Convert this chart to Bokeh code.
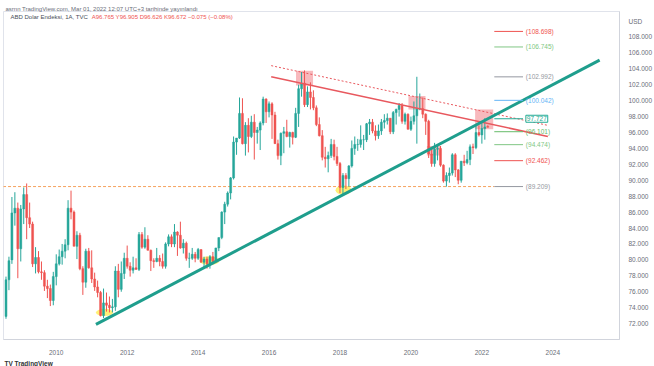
from bokeh.plotting import figure
from bokeh.models import (Range1d, FixedTicker, Label, Title, ColumnDataSource,
                          NumeralTickFormatter)
from bokeh.embed import file_html
from bokeh.resources import INLINE

# ---- Monthly DXY candles (Aug 2008 .. Mar 2022) ----
start_year, start_month = 2008, 8
opens = [72.9, 77.5, 80.0, 85.9, 86.5,
         81.4, 86.4, 88.2, 85.3, 84.5, 79.5, 80.3, 78.5, 78.4, 76.7, 76.4, 74.9,
         77.9, 79.5, 80.4, 81.1, 81.9, 86.5, 86.0, 81.7, 83.1, 78.9, 77.2, 81.1,
         79.0, 77.6, 76.6, 75.9, 73.0, 74.6, 74.3, 74.0, 74.1, 78.6, 76.3, 78.3,
         80.2, 79.2, 78.7, 79.0, 78.8, 83.2, 81.6, 82.6, 81.2, 79.9, 79.8, 80.2,
         79.8, 79.2, 82.0, 82.9, 82.0, 83.5, 83.1, 81.5, 82.1, 80.2, 80.2, 80.7,
         80.2, 81.3, 79.7, 80.1, 79.5, 80.4, 79.8, 81.5, 82.8, 86.0, 87.0, 88.4,
         90.3, 94.8, 95.3, 98.4, 94.6, 96.9, 95.5, 97.3, 96.0, 96.3, 97.2, 100.2,
         98.6, 99.6, 98.2, 94.6, 93.1, 95.9, 96.1, 95.5, 96.0, 95.4, 98.4, 101.5,
         102.2, 99.5, 101.1, 100.4, 99.1, 97.0, 95.6, 92.9, 92.7, 93.1, 94.5, 93.0,
         92.1, 89.1, 90.6, 90.2, 91.8, 94.0, 94.5, 94.5, 95.1, 95.1, 97.1, 97.3,
         96.2, 95.6, 96.2, 97.3, 97.5, 97.8, 96.1, 98.5, 98.9, 99.4, 97.4, 98.3,
         96.4, 97.4, 98.1, 99.0, 99.0, 98.3, 97.4, 93.3, 92.1, 93.9, 94.0, 91.9,
         89.9, 90.6, 90.9, 93.2, 91.3, 90.0, 92.4, 92.2, 92.6, 94.2, 94.1, 96.0,
         95.7, 96.5, 96.765]
highs = [77.9, 80.4, 87.9, 88.5, 87.2,
         86.9, 89.1, 89.6, 87.2, 84.8, 81.6, 81.1, 79.8, 78.7, 77.5, 76.9, 78.5,
         80.7, 81.3, 82.0, 82.6, 87.5, 88.7, 86.2, 83.6, 83.4, 79.2, 81.4, 81.5,
         81.2, 78.4, 77.4, 76.1, 76.4, 75.9, 75.4, 75.1, 79.2, 79.5, 79.8, 80.9,
         81.8, 79.7, 80.4, 80.2, 83.5, 83.5, 84.1, 83.1, 81.3, 80.2, 81.5, 80.6,
         80.8, 82.2, 83.2, 83.2, 84.5, 83.6, 84.8, 82.6, 82.3, 80.9, 81.5, 81.0,
         81.5, 81.3, 80.4, 80.4, 80.6, 81.0, 81.5, 82.8, 86.1, 87.3, 88.6, 90.4,
         95.5, 95.3, 100.4, 100.3, 97.3, 97.8, 98.1, 98.3, 96.7, 97.4, 100.5, 100.3,
         99.9, 99.8, 98.6, 95.1, 96.0, 96.7, 97.6, 96.1, 96.1, 99.1, 102.0, 103.6,
         103.8, 101.8, 102.3, 101.3, 99.4, 97.9, 96.3, 94.2, 93.6, 95.2, 95.1, 94.2,
         92.3, 90.9, 90.9, 91.9, 95.0, 95.5, 95.2, 96.9, 95.7, 97.2, 97.7, 97.7,
         96.9, 97.0, 97.7, 98.3, 98.4, 97.8, 98.7, 99.0, 99.7, 99.7, 98.5, 98.4,
         98.0, 99.9, 103.0, 100.9, 100.4, 98.4, 97.6, 93.9, 94.7, 94.3, 94.3, 92.0,
         91.0, 91.6, 93.4, 93.4, 91.4, 92.4, 93.2, 93.7, 94.5, 94.6, 96.9, 96.9,
         97.4, 97.8, 96.905]
lows = [72.6, 76.2, 79.5, 84.3, 77.7,
        79.8, 84.5, 82.6, 84.0, 79.1, 78.3, 78.3, 77.5, 76.1, 75.2, 74.2, 74.3,
        76.8, 79.3, 79.4, 80.2, 81.2, 85.1, 81.8, 80.1, 78.7, 75.6, 76.5, 78.9,
        77.1, 76.1, 75.3, 72.9, 72.7, 73.5, 73.4, 73.4, 73.6, 75.3, 76.0, 77.6,
        78.9, 77.9, 78.3, 78.8, 78.6, 81.4, 81.4, 81.2, 78.6, 79.0, 79.7, 79.2,
        78.9, 78.9, 81.7, 81.6, 81.6, 80.5, 81.4, 80.8, 79.9, 79.0, 80.0, 79.7,
        80.0, 79.7, 79.1, 78.9, 78.9, 79.7, 79.7, 81.1, 82.6, 84.5, 86.7, 87.6,
        90.1, 93.2, 95.2, 94.5, 93.1, 93.5, 95.3, 92.6, 94.6, 93.8, 96.9, 97.2,
        97.9, 95.2, 94.6, 92.6, 91.9, 93.4, 95.4, 94.1, 94.5, 95.3, 96.7, 100.5,
        99.2, 99.2, 98.9, 98.8, 96.8, 95.5, 92.5, 91.6, 91.0, 92.8, 92.5, 91.8,
        88.4, 88.3, 88.9, 89.2, 91.6, 93.2, 93.7, 94.1, 93.8, 94.8, 95.7, 95.9,
        95.0, 95.2, 95.7, 96.5, 97.0, 95.8, 95.8, 97.0, 98.0, 97.1, 97.0, 96.4,
        96.2, 97.0, 94.6, 98.8, 97.8, 95.7, 92.8, 91.7, 91.7, 92.5, 91.7, 89.7,
        89.2, 89.7, 90.6, 90.4, 89.5, 89.7, 91.8, 92.0, 91.9, 93.3, 93.9, 95.5,
        94.6, 95.1, 96.626]
closes = [77.5, 79.9, 85.9, 86.5, 81.4,
          86.4, 88.2, 85.3, 84.5, 79.5, 80.3, 78.5, 78.4, 76.7, 76.4, 74.9, 77.9,
          79.5, 80.4, 81.1, 81.9, 86.5, 86.0, 81.7, 83.1, 78.9, 77.2, 81.1, 79.0,
          77.6, 76.6, 75.9, 73.0, 74.6, 74.3, 74.0, 74.1, 78.6, 76.3, 78.3, 80.2,
          79.2, 78.7, 79.0, 78.8, 83.2, 81.6, 82.6, 81.2, 79.9, 79.8, 80.2, 79.8,
          79.2, 82.0, 82.9, 82.0, 83.5, 83.1, 81.5, 82.1, 80.2, 80.2, 80.7, 80.2,
          81.3, 79.7, 80.1, 79.5, 80.4, 79.8, 81.5, 82.8, 86.0, 87.0, 88.4, 90.3,
          94.8, 95.3, 98.4, 94.6, 96.9, 95.5, 97.3, 96.0, 96.3, 97.2, 100.2, 98.6,
          99.6, 98.2, 94.6, 93.1, 95.9, 96.1, 95.5, 96.0, 95.4, 98.4, 101.5, 102.2,
          99.5, 101.1, 100.4, 99.1, 97.0, 95.6, 92.9, 92.7, 93.1, 94.5, 93.0, 92.1,
          89.1, 90.6, 90.2, 91.8, 94.0, 94.5, 94.5, 95.1, 95.1, 97.1, 97.3, 96.2,
          95.6, 96.2, 97.3, 97.5, 97.8, 96.1, 98.5, 98.9, 99.4, 97.4, 98.3, 96.4,
          97.4, 98.1, 99.0, 99.0, 98.3, 97.4, 93.3, 92.1, 93.9, 94.0, 91.9, 89.9,
          90.6, 90.9, 93.2, 91.3, 90.0, 92.4, 92.2, 92.6, 94.2, 94.1, 96.0, 95.7,
          96.5, 96.7, 96.672]

# ---- Drawings ----
trend_t = [2011.12, 2025.32]
trend_v = [71.9, 105.1]
res_solid_t = [2016.06, 2023.86]
res_solid_v = [103.0, 95.5]
res_dot_t = [2016.06, 2023.86]
res_dot_v = [104.4, 96.9]
box_left = [2016.76, 2019.93, 2020.45, 2021.81]
box_right = [2017.24, 2020.41, 2020.85, 2022.32]
box_top = [103.75, 100.6, 94.3, 98.9]
box_bottom = [101.9, 98.9, 93.1, 96.4]
ell_t = [2011.36, 2014.32, 2018.10]
ell_v = [73.4, 79.9, 88.75]
ell_w = [0.48, 0.56, 0.45]
ell_h = [0.9, 1.1, 1.2]
support_level = 89.209
support_t = [2008.5, 2022.35]
fib_levels = [89.209, 92.462, 94.474, 96.101, 97.727, 100.042, 102.992, 106.745, 108.698]
fib_colors = ["#9598a1", "#ef5350", "#81c784", "#66bb6a", "#22ab94", "#64b5f6",
              "#9598a1", "#81c784", "#ef5350"]
fib_t0, fib_t1, fib_label_t = 2022.35, 2023.16, 2023.24
price_ticks = list(range(72, 111, 2))
year_ticks = list(range(2010, 2025, 2))

FONT = "Liberation Sans"
UP, DOWN = "#26a69a", "#ef5350"

ts = []
y, m = start_year, start_month
for _ in opens:
    ts.append(y + (m - 1) / 12.0)
    m += 1
    if m > 12:
        m = 1
        y += 1
colors = [UP if c >= o else DOWN for o, c in zip(opens, closes)]
src = ColumnDataSource(dict(t=ts, o=opens, h=highs, l=lows, c=closes,
                            top=[max(o, c) for o, c in zip(opens, closes)],
                            bot=[min(o, c) for o, c in zip(opens, closes)],
                            col=colors))

p = figure(width=654, height=366, output_backend="svg", toolbar_location=None,
           x_range=Range1d(2008.513, 2025.88), y_range=Range1d(70.0, 111.2),
           y_axis_location="right", min_border_left=3, min_border_right=32,
           min_border_top=11, min_border_bottom=24,
           title="asrnn TradingView.com, Mar 01, 2022 12:07 UTC+3 tarihinde yayınlandı")
p.title.text_font = FONT
p.title.text_font_size = "6px"
p.title.text_font_style = "normal"
p.title.text_color = "#6a6d78"
p.title.standoff = 0
p.title.offset = 2
p.grid.visible = False
p.outline_line_color = "#e0e3eb"
p.background_fill_color = "white"
p.border_fill_color = "white"

# axes
p.yaxis.ticker = FixedTicker(ticks=price_ticks)
p.yaxis.formatter = NumeralTickFormatter(format="0.000")
p.yaxis.major_label_overrides = {110: "USD"}
p.xaxis.ticker = FixedTicker(ticks=year_ticks)
for ax in (p.xaxis, p.yaxis):
    ax.major_label_text_font = FONT
    ax.major_label_text_font_size = "6.5px"
    ax.major_label_text_color = "#6a6d78"
    ax.axis_line_color = "#d1d4dc"
    ax.major_tick_line_color = None
    ax.minor_tick_line_color = None
p.yaxis.major_label_standoff = 3
p.xaxis.major_label_standoff = 4

# support dashed line
p.line(support_t, [support_level, support_level], line_color="#f5a25d",
       line_width=1, line_dash="3 2")

# highlight boxes & ellipses
p.quad(left=box_left, right=box_right, top=box_top, bottom=box_bottom,
       fill_color="#f48a91", fill_alpha=0.6, line_color=None)
p.ellipse(x=ell_t, y=ell_v, width=ell_w, height=ell_h,
          fill_color="#ffe93b", fill_alpha=0.7, line_color=None)

# candles
p.segment(x0="t", x1="t", y0="l", y1="h", line_color="col", line_width=1, source=src)
p.vbar(x="t", top="top", bottom="bot", width=0.055, fill_color="col",
       line_color="col", line_width=0.5, source=src)

# resistance lines
p.line(res_dot_t, res_dot_v, line_color="#e8585e", line_width=1, line_dash="2 2")
p.line(res_solid_t, res_solid_v, line_color="#e8585e", line_width=1.5)

# trend line
p.line(trend_t, trend_v, line_color="#1f9e8d", line_width=3)

# fib levels
p.segment(x0=[fib_t0] * len(fib_levels), x1=[fib_t1] * len(fib_levels),
          y0=fib_levels, y1=fib_levels, line_color=fib_colors, line_width=1)
for lvl, col in zip(fib_levels, fib_colors):
    if abs(lvl - 97.727) < 1e-6:
        p.add_layout(Label(x=fib_label_t, y=lvl, text=f"{lvl:.3f}", text_font=FONT,
                           text_font_size="6.5px", text_color=col, text_baseline="middle",
                           border_line_color=col, border_line_width=1,
                           background_fill_color="white", padding=1))
    else:
        p.add_layout(Label(x=fib_label_t, y=lvl, text=f"({lvl:.3f})", text_font=FONT,
                           text_font_size="6.5px", text_color=col, text_baseline="middle"))

# legend line of the chart pane
p.add_layout(Label(x=2008.71, y=110.9, text="ABD Dolar Endeksi, 1A, TVC", text_font=FONT,
                   text_font_size="6px", text_color="#4a4d57", text_baseline="top"))
p.add_layout(Label(x=2011.0, y=110.9,
                   text="A96.765 Y96.905 D96.626 K96.672 \u22120.075 (\u22120.08%)",
                   text_font=FONT, text_font_size="6px", text_color="#ef5350",
                   text_baseline="top"))

# TradingView logo text
p.add_layout(Title(text="TV TradingView", text_font=FONT, text_font_size="6.5px",
                   text_font_style="bold", text_color="#333", align="left",
                   standoff=0, offset=1), "below")

open("out.html", "w").write(file_html(p, INLINE))
